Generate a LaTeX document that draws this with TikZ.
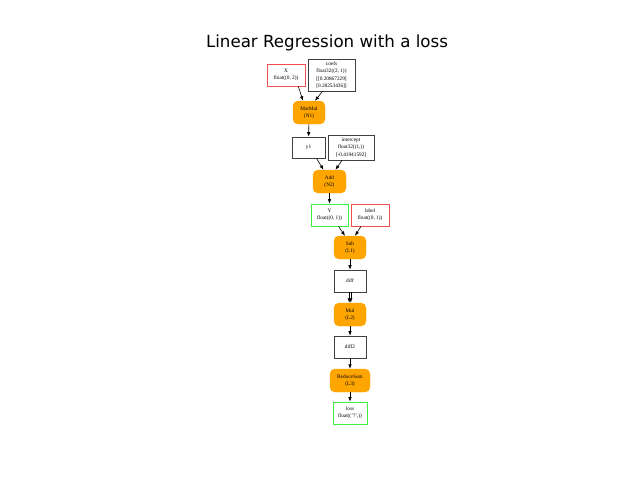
\documentclass[tikz,border=0pt]{standalone}
\usepackage{fontspec}
\setmainfont{Liberation Serif}
\newfontfamily\titlefont{DejaVu Sans}
\usetikzlibrary{arrows.meta}
\definecolor{opfill}{HTML}{FFA500}
\definecolor{inred}{HTML}{F05050}
\definecolor{outgreen}{HTML}{40F040}
\begin{document}
\begin{tikzpicture}[x=1pt,y=-1pt,
  every node/.style={inner sep=0pt, font=\fontsize{5.3}{7.2}\selectfont, align=center},
  databox/.style={draw=black!75, line width=0.6pt, rectangle},
  inbox/.style={draw=inred, line width=0.6pt, rectangle},
  outbox/.style={draw=outgreen, line width=0.6pt, rectangle},
  opbox/.style={fill=opfill, draw=opfill, rectangle, rounded corners=5pt},
  edge/.style={-{Latex[length=4.5pt,width=3.5pt]}, line width=0.6pt, black}]
\useasboundingbox (0,0) rectangle (640,480);
\node[font=\titlefont\fontsize{16.67}{20}\selectfont] (title) at (327,43) {Linear Regression with a loss};
% inputs
\node[inbox, minimum width=38pt, minimum height=22pt] (X) at (286,75) {X\\float((0, 2))};
\node[databox, minimum width=47pt, minimum height=32pt] (coefs) at (331.5,75) {coefs\\float32((2, 1))\\{}[[0.20867229]\\{}[0.28253436]]};
\node[opbox, minimum width=32pt, minimum height=23pt] (matmul) at (309,112.5) {MatMul\\(N1)};
\node[databox, minimum width=33pt, minimum height=21pt] (y1) at (308.5,147.5) {y1};
\node[databox, minimum width=46pt, minimum height=25pt] (intercept) at (351,147.5) {intercept\\float32((1,))\\{}[-0.41941592]};
\node[opbox, minimum width=33pt, minimum height=23pt] (add) at (329.5,181.5) {Add\\(N2)};
\node[outbox, minimum width=37pt, minimum height=22pt] (Y) at (329.5,215) {Y\\float((0, 1))};
\node[inbox, minimum width=38pt, minimum height=22pt] (label) at (370,215) {label\\float((0, 1))};
\node[opbox, minimum width=32pt, minimum height=23pt] (sub) at (350,247.5) {Sub\\(L1)};
\node[databox, minimum width=32pt, minimum height=22pt] (diff) at (350,281) {diff};
\node[opbox, minimum width=32pt, minimum height=23pt] (mul) at (350,314.5) {Mul\\(L2)};
\node[databox, minimum width=32pt, minimum height=22pt] (diff2) at (350,347) {diff2};
\node[opbox, minimum width=40pt, minimum height=23pt] (rsum) at (350,380.5) {ReduceSum\\(L3)};
\node[outbox, minimum width=34pt, minimum height=22pt] (loss) at (350,413) {loss\\float(('?',))};
% edges
\draw[edge] (X.south east) ++(-7,0) -- ([xshift=-6pt]matmul.north);
\draw[edge] ([xshift=-9pt]coefs.south) -- ([xshift=6pt]matmul.north);
\draw[edge] (matmul) -- (y1);
\draw[edge] ([xshift=8pt]y1.south) -- ([xshift=-6pt]add.north);
\draw[edge] ([xshift=-9pt]intercept.south) -- ([xshift=6pt]add.north);
\draw[edge] (add) -- (Y);
\draw[edge] ([xshift=9pt]Y.south) -- ([xshift=-5pt]sub.north);
\draw[edge] ([xshift=-9pt]label.south) -- ([xshift=5pt]sub.north);
\draw[edge] (sub) -- (diff);
\draw[edge] ([xshift=-0.8pt]diff.south) -- ([xshift=-0.8pt]mul.north);
\draw[edge] ([xshift=0.8pt]diff.south) -- ([xshift=0.8pt]mul.north);
\draw[edge] (mul) -- (diff2);
\draw[edge] (diff2) -- (rsum);
\draw[edge] (rsum) -- (loss);
\end{tikzpicture}
\end{document}
